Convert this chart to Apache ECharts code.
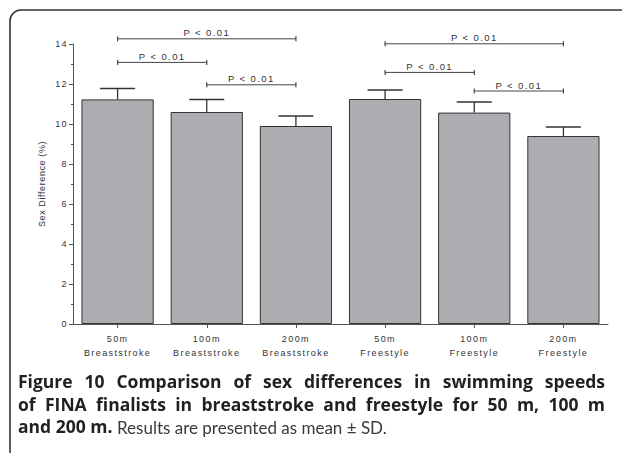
<!DOCTYPE html>
<html>
<head>
<meta charset="utf-8">
<script src="https://cdn.jsdelivr.net/npm/echarts@6/dist/echarts.min.js"></script>
<style>
html,body{margin:0;padding:0;background:#fff;}
#wrap{position:relative;width:622px;height:453px;overflow:hidden;}
#chart{position:absolute;left:0;top:0;width:622px;height:453px;letter-spacing:1.4px;}
#chart text[transform^="matrix"]{letter-spacing:0.6px;}
#cap{position:absolute;left:0;top:360px;width:622px;height:93px;letter-spacing:0;}
</style>
</head>
<body>
<div id="wrap">
  <div id="chart"></div>
  <div id="cap"></div>
</div>
<script>
// ---- data ----
var categories = ['50m\nBreaststroke', '100m\nBreaststroke', '200m\nBreaststroke', '50m\nFreestyle', '100m\nFreestyle', '200m\nFreestyle'];
var means = [11.23, 10.60, 9.90, 11.25, 10.57, 9.40];
var sds = [0.55, 0.63, 0.50, 0.45, 0.53, 0.45];
var bracketFrom = [0, 0, 1, 3, 3, 4];
var bracketTo = [2, 1, 2, 5, 4, 5];
var bracketLevel = [14.26, 13.08, 11.96, 14.01, 12.58, 11.65];
var bracketLabels = ['P < 0.01', 'P < 0.01', 'P < 0.01', 'P < 0.01', 'P < 0.01', 'P < 0.01'];
var yTicks = { min: 0, max: 14, interval: 2 };
var yTitle = 'Sex Difference (%)';
var captionLine1 = 'Figure 10 Comparison of sex differences in swimming speeds';
var captionLine2 = 'of FINA finalists in breaststroke and freestyle for 50 m, 100 m';
var captionBold3 = 'and 200 m.';
var captionRegular = 'Results are presented as mean \u00b1 SD.';

var FONT = 'Liberation Sans';
var chart = echarts.init(document.getElementById('chart'), null, { renderer: 'svg' });

var errData = means.map(function (m, i) { return [i, m, m + sds[i]]; });
var brData = bracketFrom.map(function (f, i) { return [f, bracketTo[i], bracketLevel[i], i]; });

chart.setOption({
  animation: false,
  backgroundColor: 'transparent',
  grid: { left: 73, right: 14, top: 44, bottom: 129, containLabel: false },
  xAxis: {
    type: 'category',
    data: categories,
    axisLine: { lineStyle: { color: '#555', width: 1 } },
    axisTick: { show: true, alignWithLabel: true, length: 4, lineStyle: { color: '#555' } },
    axisLabel: { fontFamily: FONT, fontSize: 9, color: '#333', lineHeight: 14, margin: 8 }
  },
  yAxis: {
    type: 'value',
    min: yTicks.min, max: yTicks.max, interval: yTicks.interval,
    name: yTitle,
    nameLocation: 'middle',
    nameGap: 27,
    nameTextStyle: { fontFamily: FONT, fontSize: 9, color: '#333' },
    axisLine: { show: true, lineStyle: { color: '#555', width: 1 } },
    axisTick: { show: true, length: 4, lineStyle: { color: '#555' } },
    minorTick: { show: true, splitNumber: 2, length: 2, lineStyle: { color: '#555' } },
    splitLine: { show: false },
    axisLabel: { fontFamily: FONT, fontSize: 9, color: '#333', margin: 5 }
  },
  series: [
    {
      type: 'bar',
      data: means,
      barWidth: '81%',
      itemStyle: { color: '#acadb1', borderColor: '#333', borderWidth: 1 },
      z: 2
    },
    {
      type: 'custom',
      data: errData,
      z: 3,
      renderItem: function (params, api) {
        var i = api.value(0);
        var p0 = api.coord([i, api.value(1)]);
        var p1 = api.coord([i, api.value(2)]);
        var half = 17.5;
        return {
          type: 'group',
          children: [
            { type: 'line', shape: { x1: p0[0], y1: p0[1], x2: p1[0], y2: p1[1] }, style: { stroke: '#333', lineWidth: 1.3 } },
            { type: 'line', shape: { x1: p1[0] - half, y1: p1[1], x2: p1[0] + half, y2: p1[1] }, style: { stroke: '#333', lineWidth: 1.5 } }
          ]
        };
      }
    },
    {
      type: 'custom',
      data: brData,
      z: 3,
      renderItem: function (params, api) {
        var a = api.coord([api.value(0), api.value(2)]);
        var b = api.coord([api.value(1), api.value(2)]);
        var idx = api.value(3);
        var t = 2.5;
        return {
          type: 'group',
          children: [
            { type: 'line', shape: { x1: a[0], y1: a[1], x2: b[0], y2: b[1] }, style: { stroke: '#444', lineWidth: 1 } },
            { type: 'line', shape: { x1: a[0], y1: a[1] - t, x2: a[0], y2: a[1] + t }, style: { stroke: '#444', lineWidth: 1.2 } },
            { type: 'line', shape: { x1: b[0], y1: b[1] - t, x2: b[0], y2: b[1] + t }, style: { stroke: '#444', lineWidth: 1.2 } },
            { type: 'text', x: (a[0] + b[0]) / 2, y: a[1] - 6,
              style: { text: bracketLabels[idx], fontFamily: FONT, fontSize: 9.5, fill: '#333', align: 'center', verticalAlign: 'middle' } }
          ]
        };
      }
    }
  ],
  graphic: [
    {
      type: 'rect',
      shape: { x: 10, y: 10, width: 660, height: 480, r: 11 },
      style: { fill: 'none', stroke: '#333', lineWidth: 1.6 },
      silent: true
    }
  ]
});

// ---- caption (justified lines, separate instance without letter spacing) ----
var cap = echarts.init(document.getElementById('cap'));
var BSIZE = 17.5, RSIZE = 17;
var BOLD = 'bold ' + BSIZE + 'px "Open Sans"';
var mctx = document.createElement('canvas').getContext('2d');
function textW(font, s) { mctx.font = font; return mctx.measureText(s).width; }
var capLeft = 18, capRight = 605;
var lineCenters = [23.2, 46.2, 68.2];
var els = [];
function boldText(x, y, s) {
  return { type: 'text', x: x, y: y, style: { text: s, fontFamily: 'Open Sans', fontWeight: 'bold', fontSize: BSIZE, fill: '#231f20', align: 'left', verticalAlign: 'middle' } };
}
function justify(line, y) {
  var words = line.split(' ');
  var widths = words.map(function (w) { return textW(BOLD, w); });
  var sum = widths.reduce(function (a, b) { return a + b; }, 0);
  var gap = (capRight - capLeft - sum) / (words.length - 1);
  var x = capLeft;
  words.forEach(function (w, i) { els.push(boldText(x, y, w)); x += widths[i] + gap; });
}
justify(captionLine1, lineCenters[0]);
justify(captionLine2, lineCenters[1]);
els.push(boldText(capLeft, lineCenters[2], captionBold3));
var xReg = capLeft + textW(BOLD, captionBold3) + textW(BOLD, ' ');
els.push({ type: 'text', x: xReg, y: lineCenters[2] + 0.3, style: { text: captionRegular, fontFamily: 'Lato', fontSize: RSIZE, fill: '#3a3a3a', align: 'left', verticalAlign: 'middle' } });
cap.setOption({ animation: false, graphic: els });
</script>
</body>
</html>
